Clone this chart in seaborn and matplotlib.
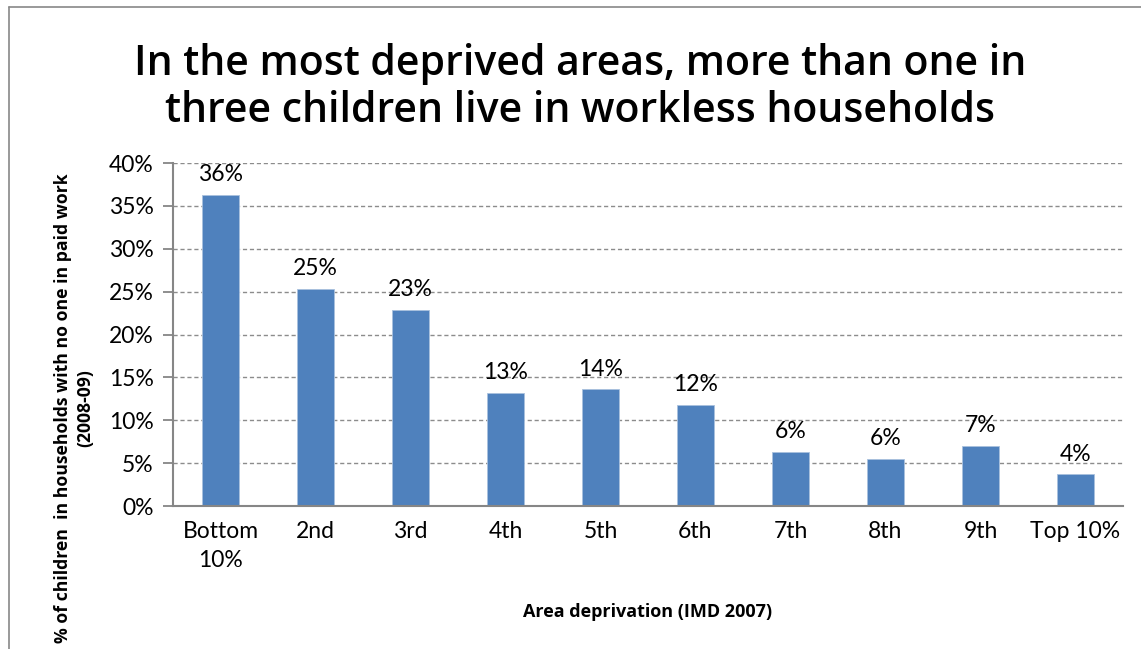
import matplotlib
matplotlib.use("Agg")
import matplotlib.pyplot as plt
from matplotlib.lines import Line2D
from matplotlib.ticker import FixedLocator, FuncFormatter
import seaborn as sns
import pandas as pd

# Share of children in workless households by area deprivation decile
categories = ["Bottom\n10%", "2nd", "3rd", "4th", "5th", "6th", "7th", "8th", "9th", "Top 10%"]
values = [36.3, 25.3, 22.9, 13.2, 13.6, 11.8, 6.3, 5.5, 7.0, 3.7]
y_ticks = [0, 5, 10, 15, 20, 25, 30, 35, 40]

title = "In the most deprived areas, more than one in\nthree children live in workless households"
x_label = "Area deprivation (IMD 2007)"
y_label = "% of children  in households with no one in paid work\n(2008-09)"

sns.set_theme(style="white")
plt.rcParams["font.family"] = ["Lato", "DejaVu Sans"]
plt.rcParams["text.color"] = "black"
plt.rcParams["xtick.color"] = "black"
plt.rcParams["ytick.color"] = "black"

df = pd.DataFrame({"decile": categories, "pct": values})

fig = plt.figure(figsize=(11.41, 6.49), dpi=100)
ax = fig.add_axes([0.1516, 0.2203, 0.8326, 0.5285])

sns.barplot(data=df, x="decile", y="pct", color="#4F81BD", saturation=1,
            width=0.39, ax=ax, edgecolor="#A9C1DE", linewidth=0.6)

ax.set_ylim(0, 40)
ax.set_xlim(-0.5, len(categories) - 0.5)
ax.yaxis.set_major_locator(FixedLocator(y_ticks))
ax.yaxis.set_major_formatter(FuncFormatter(lambda v, p: f"{v:.0f}%"))
ax.yaxis.grid(True, color="#8C8C8C", linestyle=(0, (3, 2)), linewidth=1.0)
ax.set_axisbelow(True)

# Category boundary ticks on the x axis
ax.set_xticks([i - 0.5 for i in range(len(categories) + 1)], minor=True)
ax.tick_params(axis="x", which="major", length=0, pad=11, labelsize=16.5, labelcolor="black")
ax.tick_params(axis="x", which="minor", length=7, width=1.3, color="#868686", direction="out")
ax.tick_params(axis="y", which="major", length=7, width=1.3, color="#868686", direction="out",
               labelsize=16.5, labelcolor="black", pad=7, left=True)

for side in ["top", "right"]:
    ax.spines[side].set_visible(False)
for side in ["left", "bottom"]:
    ax.spines[side].set_color("#868686")
    ax.spines[side].set_linewidth(1.5)

for lab in ax.get_xticklabels():
    lab.set_linespacing(1.45)

ax.set_xlabel("")
ax.set_ylabel("")

# Value labels above each bar
for i, v in enumerate(values):
    ax.annotate(f"{v:.0f}%", (i, v), xytext=(0, 7), textcoords="offset points",
                ha="center", va="bottom", fontsize=16.5, color="black")

fig.text(0.508, 0.865, title, ha="center", va="center", fontsize=29.5,
         fontfamily=["Open Sans", "DejaVu Sans"], fontweight="semibold",
         linespacing=1.15, color="black")
fig.text(0.5675, 0.057, x_label, ha="center", va="center", fontsize=13,
         fontweight="bold", fontfamily=["Open Sans", "DejaVu Sans"], color="black")
fig.text(0.065, 0.371, y_label, ha="center", va="center", rotation=90,
         fontsize=12.7, fontweight="bold", fontfamily=["Open Sans", "DejaVu Sans"],
         multialignment="center", linespacing=1.3, color="black")

# Chart-area frame along the top and left edges
fig.add_artist(Line2D([0.0079, 0.0079], [0.0, 0.989], transform=fig.transFigure,
                      color="#888888", linewidth=1.2))
fig.add_artist(Line2D([0.0079, 1.0], [0.989, 0.989], transform=fig.transFigure,
                      color="#888888", linewidth=1.2))

fig.savefig("out.png", dpi=100)
